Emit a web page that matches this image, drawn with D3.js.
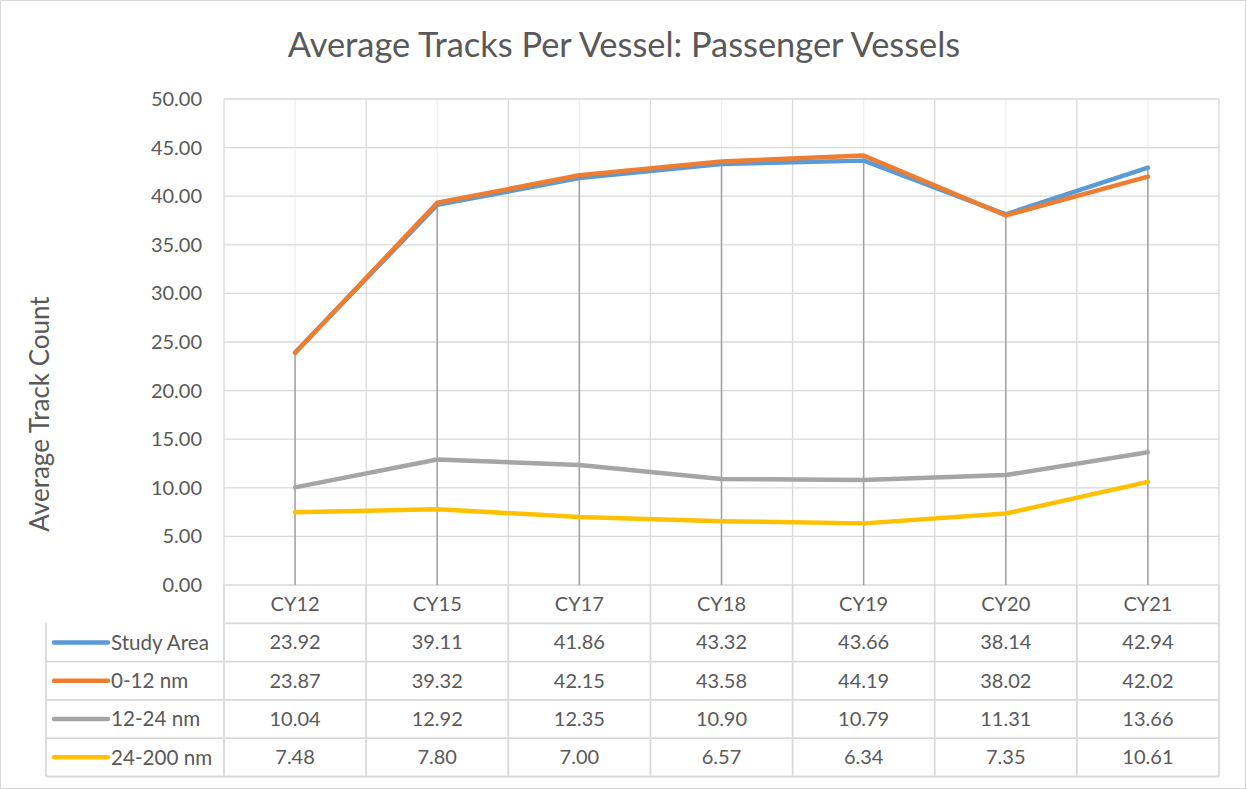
<!DOCTYPE html>
<html>
<head>
<meta charset="utf-8">
<script src="https://cdn.jsdelivr.net/npm/d3@7"></script>
<style>
  body { margin: 0; background: #fff; }
  text { font-family: Lato, "Open Sans", sans-serif; fill: #595959; }
</style>
</head>
<body>
<div id="chart"></div>
<script>
// data
var categories = ["CY12", "CY15", "CY17", "CY18", "CY19", "CY20", "CY21"];
var seriesNames = ["Study Area", "0-12 nm", "12-24 nm", "24-200 nm"];
var studyArea = [23.92, 39.11, 41.86, 43.32, 43.66, 38.14, 42.94];
var nm0to12 = [23.87, 39.32, 42.15, 43.58, 44.19, 38.02, 42.02];
var nm12to24 = [10.04, 12.92, 12.35, 10.90, 10.79, 11.31, 13.66];
var nm24to200 = [7.48, 7.80, 7.00, 6.57, 6.34, 7.35, 10.61];
var yTicks = [0, 5, 10, 15, 20, 25, 30, 35, 40, 45, 50];
var colors = ["#5b9bd5", "#ed7d31", "#a5a5a5", "#ffc000"];

var allSeries = [studyArea, nm0to12, nm12to24, nm24to200];

var width = 1247, height = 790;
var plotLeft = 224, plotRight = 1219, plotTop = 99, plotBottom = 585;
var rowH = 38.3;
var tableLeft = 46;
var fs = 20;

var svg = d3.select("#chart").append("svg")
  .attr("width", width)
  .attr("height", height);

// chart border
svg.append("rect")
  .attr("x", 0.5).attr("y", 0.5)
  .attr("width", width - 2).attr("height", height - 2)
  .attr("fill", "#fff").attr("stroke", "#d9d9d9");

var x = d3.scaleBand().domain(categories).range([plotLeft, plotRight]);
var y = d3.scaleLinear().domain([0, 50]).range([plotBottom, plotTop]);

// minor vertical gridlines at category centers
svg.selectAll(".vminor")
  .data(categories)
  .enter().append("line")
  .attr("x1", d => x(d) + x.bandwidth() / 2)
  .attr("x2", d => x(d) + x.bandwidth() / 2)
  .attr("y1", plotTop).attr("y2", plotBottom)
  .attr("stroke", "#f0f0f0").attr("stroke-width", 1.3);

// horizontal gridlines
svg.selectAll(".hgrid")
  .data(yTicks)
  .enter().append("line")
  .attr("x1", plotLeft).attr("x2", plotRight)
  .attr("y1", d => y(d)).attr("y2", d => y(d))
  .attr("stroke", "#d9d9d9").attr("stroke-width", 1.3);

// major vertical gridlines at category boundaries
var bounds = categories.map(d => x(d)).concat([plotRight]);
svg.selectAll(".vmajor")
  .data(bounds)
  .enter().append("line")
  .attr("x1", d => d).attr("x2", d => d)
  .attr("y1", plotTop).attr("y2", plotBottom)
  .attr("stroke", "#d9d9d9").attr("stroke-width", 1.3);

// y axis labels
var yAxis = d3.axisLeft(y).tickValues(yTicks).tickFormat(d3.format(".2f")).tickSize(0).tickPadding(22);
var yg = svg.append("g").attr("transform", "translate(" + plotLeft + ",0)").call(yAxis);
yg.select(".domain").remove();
yg.selectAll("text").attr("font-size", fs).style("font-family", "Lato, sans-serif").attr("fill", "#595959");

// drop lines from highest point to the axis
svg.selectAll(".drop")
  .data(categories)
  .enter().append("line")
  .attr("x1", d => x(d) + x.bandwidth() / 2)
  .attr("x2", d => x(d) + x.bandwidth() / 2)
  .attr("y1", (d, i) => y(d3.max(allSeries, s => s[i])))
  .attr("y2", plotBottom)
  .attr("stroke", "#a0a0a0").attr("stroke-width", 1.5);

// series lines
var line = d3.line()
  .x((d, i) => x(categories[i]) + x.bandwidth() / 2)
  .y(d => y(d));

svg.selectAll(".series")
  .data(allSeries)
  .enter().append("path")
  .attr("d", d => line(d))
  .attr("fill", "none")
  .attr("stroke", (d, i) => colors[i])
  .attr("stroke-width", 4.5)
  .attr("stroke-linejoin", "round")
  .attr("stroke-linecap", "round");

// data table
var tableBottom = plotBottom + rowH * 5;
var grid = svg.append("g").attr("stroke", "#d9d9d9").attr("stroke-width", 1.8);
// horizontal rules
for (var r = 1; r <= 5; r++) {
  grid.append("line")
    .attr("x1", r === 1 ? plotLeft : tableLeft)
    .attr("x2", plotRight)
    .attr("y1", plotBottom + rowH * r).attr("y2", plotBottom + rowH * r);
}
// vertical rules in the table
bounds.forEach(function(b) {
  grid.append("line")
    .attr("x1", b).attr("x2", b)
    .attr("y1", plotBottom).attr("y2", tableBottom);
});
grid.append("line")
  .attr("x1", tableLeft).attr("x2", tableLeft)
  .attr("y1", plotBottom + rowH).attr("y2", tableBottom);

// header row
svg.selectAll(".cat")
  .data(categories)
  .enter().append("text")
  .attr("x", d => x(d) + x.bandwidth() / 2)
  .attr("y", plotBottom + rowH / 2)
  .attr("dy", "0.35em")
  .attr("text-anchor", "middle")
  .attr("font-size", fs)
  .text(d => d);

// series rows
allSeries.forEach(function(s, i) {
  var cy = plotBottom + rowH * (i + 1.5);
  svg.append("line")
    .attr("x1", tableLeft + 8).attr("x2", tableLeft + 62)
    .attr("y1", cy).attr("y2", cy)
    .attr("stroke", colors[i]).attr("stroke-width", 4.5)
    .attr("stroke-linecap", "round");
  svg.append("text")
    .attr("x", tableLeft + 65).attr("y", cy)
    .attr("dy", "0.35em")
    .attr("font-size", fs + 0.6)
    .text(seriesNames[i]);
  svg.selectAll(".v" + i)
    .data(s)
    .enter().append("text")
    .attr("x", (d, j) => x(categories[j]) + x.bandwidth() / 2)
    .attr("y", cy)
    .attr("dy", "0.35em")
    .attr("text-anchor", "middle")
    .attr("font-size", fs)
    .text(d => d3.format(".2f")(d));
});

// title
svg.append("text")
  .attr("x", 624).attr("y", 45)
  .attr("dy", "0.35em")
  .attr("text-anchor", "middle")
  .attr("font-size", 34.4)
  .text("Average Tracks Per Vessel: Passenger Vessels");

// y axis title
svg.append("text")
  .attr("transform", "translate(40,414) rotate(-90)")
  .attr("dy", "0.35em")
  .attr("text-anchor", "middle")
  .attr("font-size", 26)
  .text("Average Track Count");
</script>
</body>
</html>
